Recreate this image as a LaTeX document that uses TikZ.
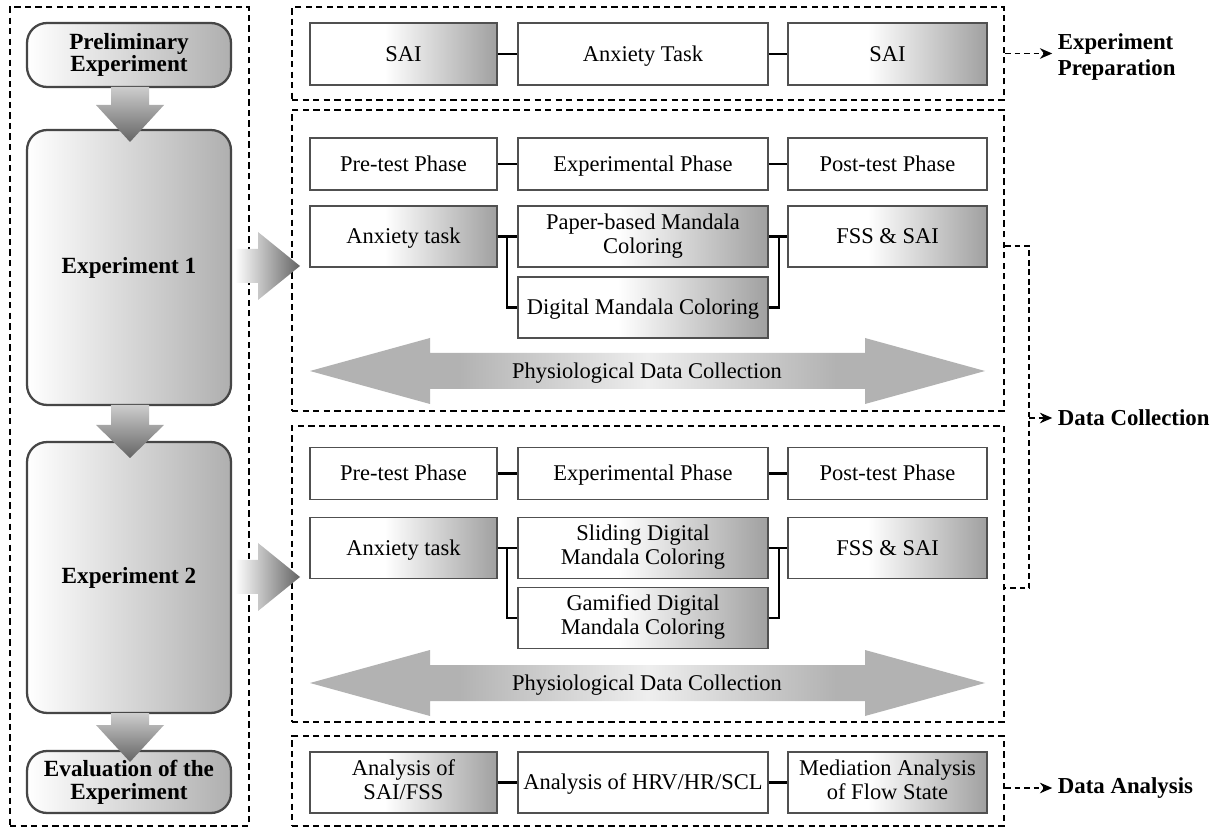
\documentclass[tikz,border=0pt]{standalone}
\usepackage{fontspec}
\setmainfont{Liberation Serif}
\usetikzlibrary{arrows.meta}
\definecolor{boxLine}{RGB}{80,80,80}
\definecolor{boxGray}{RGB}{160,160,160}
\definecolor{stageLine}{RGB}{70,70,70}
\definecolor{stageGray}{RGB}{175,175,175}
\definecolor{arrowDark}{RGB}{100,100,100}
\definecolor{arrowLight}{RGB}{205,205,205}
\definecolor{physioGray}{RGB}{178,178,178}
\definecolor{physioLight}{RGB}{238,238,238}

\newcommand{\capstrut}{\vrule height 12pt depth 3.5pt width 0pt}

\pgfdeclarehorizontalshading{boxfade}{100bp}{color(0bp)=(white); color(45bp)=(white); color(75bp)=(boxGray); color(100bp)=(boxGray)}
\pgfdeclarehorizontalshading{physiofade}{100bp}{color(0bp)=(physioGray); color(36bp)=(physioGray); color(50bp)=(physioLight); color(64bp)=(physioGray); color(100bp)=(physioGray)}

\tikzset{
  frame/.style={draw=black, line width=1.4pt, dash pattern=on 3.6pt off 2.4pt},
  phase/.style={draw=boxLine, line width=1.1pt, align=center, inner sep=2pt, font=\fontsize{12.8}{13.5}\selectfont, execute at begin node=\capstrut, execute at end node=\capstrut},
  plain/.style={phase, fill=white},
  fade/.style={phase, shading=boxfade},
  stage/.style={draw=stageLine, line width=1.3pt, rounded corners=0.4cm, left color=white, right color=stageGray, align=center, minimum width=4.08cm, font=\bfseries\fontsize{13.2}{13}\selectfont},
  colA/.style={minimum width=3.74cm},
  colB/.style={minimum width=5cm},
  colC/.style={minimum width=3.98cm},
  link/.style={draw=black, line width=1.2pt},
  dashlink/.style={line width=1.1pt, dash pattern=on 3.2pt off 2.2pt},
  sidelabel/.style={anchor=west, align=left, inner sep=2pt, font=\bfseries\fontsize{13}{14.5}\selectfont},
}

\begin{document}
\begin{tikzpicture}[x=0.02cm, y=-0.02cm]
    \useasboundingbox[fill=white] (0,0) rectangle (1218,827);

    % Left column
    \node[stage, minimum height=1.28cm] (prelim) at (129,55) {Preliminary\\Experiment};
    \node[stage, minimum height=5.5cm] (expA) at (129,267.5) {Experiment 1};
    \node[stage, minimum height=5.42cm] (expB) at (129,577.5) {Experiment 2};
    \node[stage, minimum height=1.24cm] (evalExp) at (129,782) {Evaluation of the\\Experiment};

    % Down arrows
    \foreach \top/\base/\tip in {87/105/142, 405/425/458, 713/725/762}
        \path[top color=arrowLight, bottom color=arrowDark] (111,\top) -- (149,\top) -- (149,\base) -- (164,\base) -- (130,\tip) -- (96,\base) -- (111,\base) -- cycle;

    % Experiment preparation
    \node[fade, colA, minimum height=1.24cm] (prepSAIa) at (403.5,54) {SAI};
    \node[plain, colB, minimum height=1.24cm] (prepTask) at (643,54) {Anxiety Task};
    \node[fade, colC, minimum height=1.24cm] (prepSAIb) at (887.5,54) {SAI};
    \draw[link] (prepSAIa) -- (prepTask) -- (prepSAIb);

    % Experiment 1
    \node[plain, colA, minimum height=1.04cm] (preA) at (403.5,164) {Pre-test Phase};
    \node[plain, colB, minimum height=1.04cm] (midA) at (643,164) {Experimental Phase};
    \node[plain, colC, minimum height=1.04cm] (postA) at (887.5,164) {Post-test Phase};
    \node[fade, colA, minimum height=1.22cm] (anxA) at (403.5,236.5) {Anxiety task};
    \node[fade, colB, minimum height=1.22cm] (paperA) at (643,236.5) {Paper-based Mandala\\Coloring};
    \node[fade, colB, minimum height=1.22cm] (digitalA) at (643,307.5) {Digital Mandala Coloring};
    \node[fade, colC, minimum height=1.22cm] (fssA) at (887.5,236.5) {FSS \& SAI};
    \draw[link] (preA) -- (midA) -- (postA);
    \draw[link] (anxA.east) -- (paperA.west) (digitalA.west) -- ++(-10,0) |- (anxA.east);
    \draw[link] (paperA.east) -- (fssA.west) (digitalA.east) -- ++(10,0) |- (fssA.west);

    % Experiment 2
    \node[plain, colA, minimum height=1.04cm] (preB) at (403.5,473.5) {Pre-test Phase};
    \node[plain, colB, minimum height=1.04cm] (midB) at (643,473.5) {Experimental Phase};
    \node[plain, colC, minimum height=1.04cm] (postB) at (887.5,473.5) {Post-test Phase};
    \node[fade, colA, minimum height=1.22cm] (anxB) at (403.5,548) {Anxiety task};
    \node[fade, colB, minimum height=1.22cm] (slideB) at (643,548) {Sliding Digital\\Mandala Coloring};
    \node[fade, colB, minimum height=1.22cm] (gameB) at (643,618) {Gamified Digital\\Mandala Coloring};
    \node[fade, colC, minimum height=1.22cm] (fssB) at (887.5,548) {FSS \& SAI};
    \draw[link] (preB) -- (midB) -- (postB);
    \draw[link] (anxB.east) -- (slideB.west) (gameB.west) -- ++(-10,0) |- (anxB.east);
    \draw[link] (slideB.east) -- (fssB.west) (gameB.east) -- ++(10,0) |- (fssB.west);

    % Physiological arrows
    \foreach \y/\n in {371/physioA, 683/physioB} {
        \path[shading=physiofade] (310,\y) -- (430,\y-33) -- (430,\y-18) -- (865,\y-18) -- (865,\y-33) -- (985,\y) -- (865,\y+33) -- (865,\y+18) -- (430,\y+18) -- (430,\y+33) -- cycle;
        \node[font=\fontsize{12.8}{13.5}\selectfont] (\n) at (647,\y) {\capstrut Physiological Data Collection};
    }

    % Data analysis
    \node[fade, colA, minimum height=1.22cm] (anaSAI) at (403.5,782.5) {Analysis of\\SAI/FSS};
    \node[plain, colB, minimum height=1.22cm] (anaHRV) at (643,782.5) {Analysis of HRV/HR/SCL};
    \node[fade, colC, minimum height=1.22cm] (anaFlow) at (887.5,782.5) {Mediation Analysis\\of Flow State};
    \draw[link] (anaSAI) -- (anaHRV) -- (anaFlow);

    % Dashed frames
    \node[frame, minimum width=4.78cm, minimum height=16.38cm] (leftFrame) at (129.5,416.5) {};
    \node[frame, minimum width=14.24cm, minimum height=1.86cm] (prepFrame) at (648,53.5) {};
    \node[frame, minimum width=14.24cm, minimum height=6.02cm] (dcFrameA) at (648,260.5) {};
    \node[frame, minimum width=14.24cm, minimum height=5.92cm] (dcFrameB) at (648,574) {};
    \node[frame, minimum width=14.24cm, minimum height=1.8cm] (daFrame) at (648,781) {};

    % Arrows into the experiment frames
    \foreach \y in {266,577}
        \path[left color=white, right color=arrowDark] (235,\y-17) -- (258,\y-17) -- (258,\y-34) -- (300,\y) -- (258,\y+34) -- (258,\y+17) -- (235,\y+17) -- cycle;

    % Side labels
    \node[sidelabel] (prepLabel) at (1054,57) {Experiment\\Preparation};
    \node[sidelabel] (dcLabel) at (1054,418) {Data Collection};
    \node[sidelabel] (daLabel) at (1054,788) {Data Analysis};
    \draw[dashlink, -{Stealth[length=7pt, width=6pt]}, shorten >=1pt] (prepFrame.east) -- (prepFrame.east -| prepLabel.west);
    \draw[dashlink] ([yshift=0.29cm]dcFrameA.east) -- ++(24,0) coordinate (brTop) |- ([yshift=-0.28cm]dcFrameB.east);
    \draw[dashlink, -{Stealth[length=7pt, width=6pt]}, shorten >=1pt] (brTop |- dcLabel.west) -- (dcLabel.west);
    \draw[dashlink, -{Stealth[length=7pt, width=6pt]}, shorten >=1pt] (daFrame.east |- daLabel.west) -- (daLabel.west);
\end{tikzpicture}
\end{document}
